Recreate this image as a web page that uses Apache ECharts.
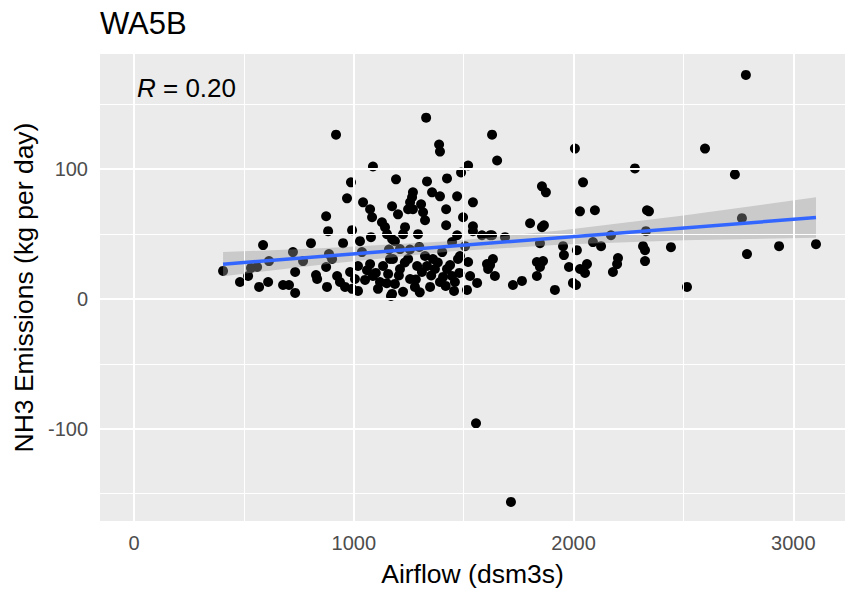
<!DOCTYPE html>
<html><head><meta charset="utf-8">
<script src="https://cdn.jsdelivr.net/npm/echarts@6/dist/echarts.min.js"></script>
<style>html,body{margin:0;padding:0;background:#fff}#c{width:845px;height:592px}</style>
</head><body><div id="c"></div>
<script>
const chartTitle = 'WA5B';
const xTitle = 'Airflow (dsm3s)';
const yTitle = 'NH3 Emissions (kg per day)';
const corrValue = '0.20';

const airflow = [405,482,519,532,560,569,610,587,614,678,705,733,733,723,769,805,833,828,
874,883,874,878,887,901,924,937,951,969,987,992,983,992,1005,1019,1019,1028,1042,1037,1074,1074,
1078,1087,1087,1110,1083,1128,1142,1151,1133,1165,1169,1174,1192,1174,1156,1187,919,1051,960,1119,
1329,1388,1392,1629,1652,1520,1488,1333,1424,1269,1265,1356,1392,1470,1542,1247,1256,1306,1315,1324,
1269,1420,1497,1420,1233,1224,1292,1542,1542,1583,1620,1470,1187,1447,1506,1633,1620,1642,1178,1247,
1324,1360,1288,1333,1310,1424,1474,1483,1520,1529,1447,1406,1460,1561,1278,1347,1224,1174,1456,1515,
1606,1611,1210,1369,1392,1256,1210,1201,
1856,1874,2043,2029,2097,1802,1856,1865,1629,1688,1847,1952,1956,2015,2088,1861,1847,1833,1979,2029,
2061,2052,1724,1765,1915,1997,2011,2006,2598,2279,2734,2343,2334,2766,2329,2170,2125,2316,2325,2443,
3103,2935,2789,2202,2198,2179,2325,2516,2784,1556,1715,1833,
1100,1150,1205,1232,1282,1300,1352,1382,1418,1438,1480,1255,1298,1160,1402,1060];
const emissions = [21.5,13.0,17.6,23.8,24.5,9.2,13.0,41.4,29.1,10.7,10.7,4.6,20.7,36.0,29.1,42.9,15.3,18.4,
63.6,52.1,24.5,9.2,34.5,30.7,17.6,13.0,42.9,77.4,89.7,52.9,20.7,7.7,15.3,25.3,6.1,44.4,74.3,36.0,69.0,26.8,
47.5,101.9,17.6,7.7,62.8,59.0,55.2,49.8,25.3,30.7,2.3,71.3,92.0,46.0,19.2,11.5,126.4,14.6,9.2,13.0,
139.5,118.8,113.4,126.4,106.5,102.7,97.3,90.4,92.7,82.0,78.2,82.0,78.9,78.9,74.3,69.0,74.3,72.8,66.7,60.5,
69.0,69.0,62.8,56.7,55.2,49.8,49.8,55.9,52.1,49.0,49.0,49.0,44.4,43.7,40.6,30.7,26.1,17.6,30.7,30.7,
33.0,30.7,25.3,25.3,20.7,23.0,30.7,33.0,28.4,17.6,17.6,16.9,13.0,12.3,9.2,9.2,5.4,3.8,6.1,6.9,
26.8,23.0,38.3,23.0,13.0,15.3,23.0,65.1,
86.6,82.0,89.7,67.4,68.2,58.2,55.2,56.7,49.0,47.5,42.9,40.6,33.7,37.5,43.7,29.1,24.5,17.6,24.5,23.0,
26.8,19.9,10.7,13.8,6.9,12.3,10.7,115.7,115.7,100.4,95.8,67.4,68.2,62.1,52.1,49.0,40.6,40.6,37.5,39.8,
42.1,40.6,34.5,31.4,26.8,20.7,29.1,9.2,172.4,-95.8,-156.3,28.4,
20.0,12.0,18.0,28.0,15.0,5.0,18.0,28.0,10.0,26.0,20.0,38.0,40.0,38.0,36.0,22.0];

const fitX = [405, 3103];
const fitY = [26.7, 62.6];
const bandX = [405, 900, 1450, 1950, 2500, 3103];
const bandLo = [17.5, 27.3, 36.6, 41.8, 45.2, 47.0];
const bandHi = [36.0, 39.3, 44.6, 52.8, 64.2, 78.2];

const xTicks = [0, 1000, 2000, 3000];
const xMinor = [500, 1500, 2500];
const yTicks = [-100, 0, 100];
const yMinor = [-150, -50, 50, 150];

const FONT = '"Liberation Sans", Arial, sans-serif';
const chart = echarts.init(document.getElementById('c'), null, {renderer: 'svg'});

const points = airflow.map((x, i) => [x, emissions[i]]);
const grids = [].concat(
  xMinor.map(v => ({xAxis: v, lineStyle: {width: 1}})),
  yMinor.map(v => ({yAxis: v, lineStyle: {width: 1}})),
  xTicks.map(v => ({xAxis: v, lineStyle: {width: 2}})),
  yTicks.map(v => ({yAxis: v, lineStyle: {width: 2}}))
);
const bandData = bandX.map((x, i) => [x, bandLo[i], bandHi[i]]);

chart.setOption({
  animation: false,
  backgroundColor: '#ffffff',
  title: [
    {text: chartTitle, left: 100, top: 8, padding: 0,
     textStyle: {fontFamily: FONT, fontSize: 31, fontWeight: 'normal', color: '#000'}},
    {text: '{i|R} = ' + corrValue, left: 137, top: 75, padding: 0,
     textStyle: {fontFamily: FONT, fontSize: 26, fontWeight: 'normal', color: '#000',
       rich: {i: {fontFamily: FONT, fontSize: 26, fontStyle: 'italic', color: '#000'}}}}
  ],
  grid: {left: 100, right: 0, top: 54, bottom: 69, show: true, backgroundColor: '#EBEBEB', borderWidth: 0},
  xAxis: {
    type: 'value', min: -155, max: 3235,
    name: xTitle, nameLocation: 'middle', nameGap: 39,
    nameTextStyle: {fontFamily: FONT, fontSize: 26.5, color: '#000'},
    axisLine: {show: false},
    axisTick: {show: true, length: 6, customValues: xTicks, lineStyle: {color: '#333333', width: 1.5}},
    axisLabel: {customValues: xTicks, margin: 12, fontFamily: FONT, fontSize: 20, color: '#4D4D4D',
      formatter: v => String(v)},
    splitLine: {show: false}
  },
  yAxis: {
    type: 'value', min: -171, max: 188.5,
    name: yTitle, nameLocation: 'middle', nameGap: 63, nameRotate: 90,
    nameTextStyle: {fontFamily: FONT, fontSize: 26.5, color: '#000'},
    axisLine: {show: false},
    axisTick: {show: true, length: 6, customValues: yTicks, lineStyle: {color: '#333333', width: 1.5}},
    axisLabel: {customValues: yTicks, margin: 12, fontFamily: FONT, fontSize: 20, color: '#4D4D4D',
      formatter: v => String(v)},
    splitLine: {show: false}
  },
  series: [
    {type: 'scatter', data: [], z: 1, silent: true,
     markLine: {silent: true, symbol: ['none', 'none'], label: {show: false},
       lineStyle: {color: '#FFFFFF', type: 'solid'}, emphasis: {disabled: true}, animation: false,
       data: grids}},
    {type: 'scatter', data: points, z: 3, symbolSize: 10, silent: true,
     itemStyle: {color: '#000000', opacity: 1}},
    {type: 'custom', data: bandData, z: 4, silent: true,
     encode: {x: 0, y: [1, 2]},
     renderItem: (params, api) => {
       if (params.dataIndex !== 0) return null;
       const upper = bandData.map(d => api.coord([d[0], d[2]]));
       const lower = bandData.map(d => api.coord([d[0], d[1]])).reverse();
       return {type: 'polygon', shape: {points: upper.concat(lower)},
         style: {fill: 'rgba(153,153,153,0.4)', stroke: 'none'}};
     }},
    {type: 'line', data: fitX.map((x, i) => [x, fitY[i]]), z: 5, symbol: 'none', silent: true,
     lineStyle: {color: '#3366FF', width: 3.5}}
  ]
});
</script></body></html>
